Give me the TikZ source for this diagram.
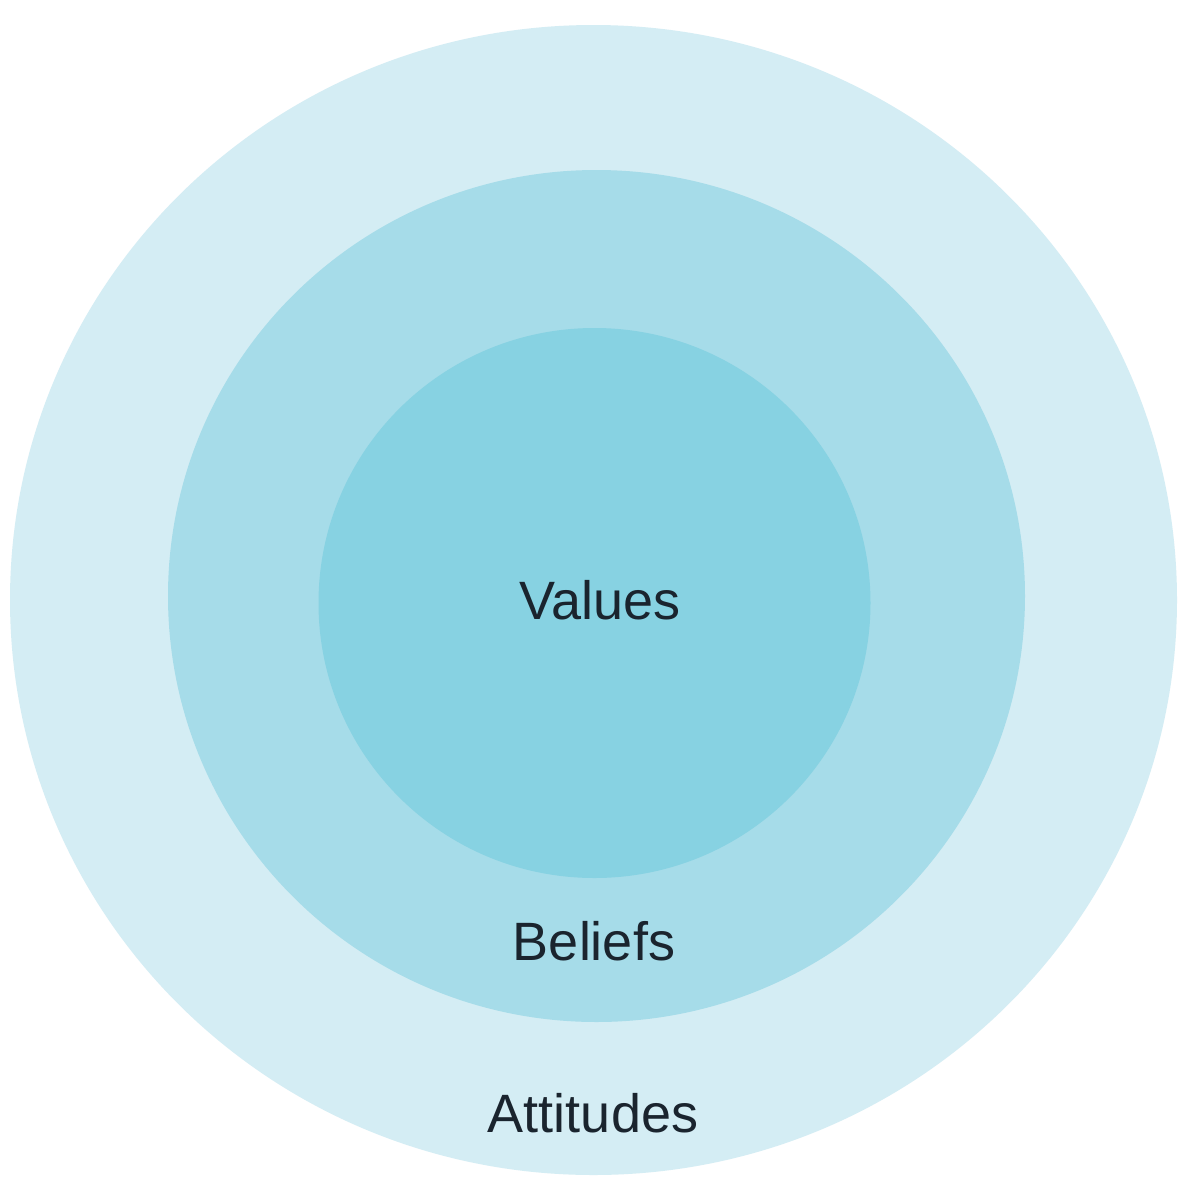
\documentclass[tikz,border=0pt]{standalone}
\usepackage{fontspec}
\setmainfont{Liberation Sans}
\definecolor{ringouter}{RGB}{212,237,244}
\definecolor{ringmid}{RGB}{166,220,233}
\definecolor{ringinner}{RGB}{135,210,226}
\definecolor{labeltext}{RGB}{26,36,46}
\tikzset{
  ringlabel/.style={anchor=base, inner sep=0pt, text=labeltext, font=\fontsize{54}{60}\selectfont}
}
\begin{document}
\begin{tikzpicture}[x=1pt,y=-1pt]
\useasboundingbox[fill=white] (0,0) rectangle (1195,1200);
\fill[ringouter] (593.5,600) ellipse [x radius=583.5pt, y radius=575pt];
\fill[ringmid] (596.5,596) ellipse [x radius=428.5pt, y radius=426pt];
\fill[ringinner] (594.5,603) ellipse [x radius=276pt, y radius=275pt];
\node[ringlabel] (values) at (600,619) {Values};
\node[ringlabel] (beliefs) at (594,960) {Beliefs};
\node[ringlabel] (attitudes) at (593,1132) {Attitudes};
\end{tikzpicture}
\end{document}
